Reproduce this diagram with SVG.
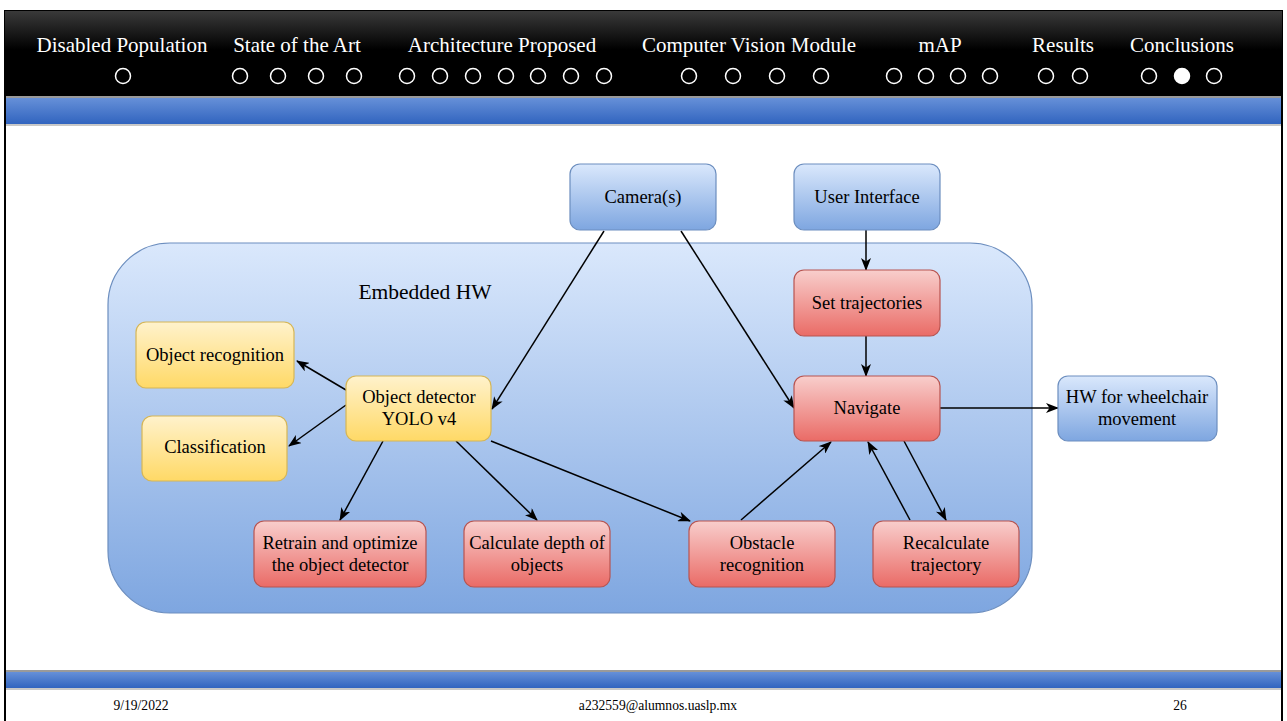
<svg xmlns="http://www.w3.org/2000/svg" width="1287" height="721" viewBox="0 0 1287 721">
  <defs>
    <linearGradient id="hdr" x1="0" y1="0" x2="0" y2="1">
      <stop offset="0" stop-color="#3a3a3a"/>
      <stop offset="0.45" stop-color="#000"/>
      <stop offset="1" stop-color="#000"/>
    </linearGradient>
    <linearGradient id="band" x1="0" y1="0" x2="0" y2="1">
      <stop offset="0" stop-color="#6690d8"/>
      <stop offset="1" stop-color="#3164bf"/>
    </linearGradient>
    <linearGradient id="gBlue" x1="0" y1="0" x2="0" y2="1">
      <stop offset="0" stop-color="#dae8fc"/>
      <stop offset="1" stop-color="#7ea6e0"/>
    </linearGradient>
    <linearGradient id="gYellow" x1="0" y1="0" x2="0" y2="1">
      <stop offset="0" stop-color="#fff2cc"/>
      <stop offset="1" stop-color="#ffd966"/>
    </linearGradient>
    <linearGradient id="gRed" x1="0" y1="0" x2="0" y2="1">
      <stop offset="0" stop-color="#f8cecc"/>
      <stop offset="1" stop-color="#ea6b66"/>
    </linearGradient>
    <marker id="arrow" viewBox="0 0 13 10" refX="12" refY="5" markerWidth="13" markerHeight="10" markerUnits="userSpaceOnUse" orient="auto">
      <path d="M0,0 L13,5 L0,10 L3.5,5 Z" fill="#000"/>
    </marker>
  </defs>
  <style>
    text { font-family: "Liberation Serif", "Times New Roman", serif; fill: #000; }
    .nav { fill: #fff; font-size: 21px; text-anchor: middle; }
    .dot { fill: none; stroke: #fff; stroke-width: 1.5; }
    .dotOn { fill: #fff; stroke: #fff; stroke-width: 1.5; }
    .lbl { font-size: 18.5px; text-anchor: middle; }
    .foot { font-size: 13.6px; text-anchor: middle; }
    .blue { fill: url(#gBlue); stroke: #6c8ebf; stroke-width: 1.2; }
    .yellow { fill: url(#gYellow); stroke: #d6b656; stroke-width: 1.2; }
    .red { fill: url(#gRed); stroke: #b85450; stroke-width: 1.2; }
    .edge { fill: none; stroke: #000; stroke-width: 1.5; marker-end: url(#arrow); }
  </style>

  <!-- slide background and frame -->
  <rect x="0" y="0" width="1287" height="721" fill="#fff"/>
  <rect x="5" y="11" width="1277" height="712" fill="none" stroke="#000" stroke-width="2"/>

  <!-- navigation header -->
  <g id="header">
    <rect x="5" y="11" width="1277" height="86" fill="url(#hdr)"/>
    <text class="nav" x="122" y="52">Disabled Population</text>
    <text class="nav" x="297" y="52">State of the Art</text>
    <text class="nav" x="502" y="52">Architecture Proposed</text>
    <text class="nav" x="749" y="52">Computer Vision Module</text>
    <text class="nav" x="940" y="52">mAP</text>
    <text class="nav" x="1063" y="52">Results</text>
    <text class="nav" x="1182" y="52">Conclusions</text>
    <g>
      <circle class="dot" cx="123" cy="76" r="7.5"/>
      <circle class="dot" cx="240" cy="76" r="7.5"/>
      <circle class="dot" cx="278" cy="76" r="7.5"/>
      <circle class="dot" cx="316" cy="76" r="7.5"/>
      <circle class="dot" cx="354" cy="76" r="7.5"/>
      <circle class="dot" cx="407" cy="76" r="7.5"/>
      <circle class="dot" cx="440" cy="76" r="7.5"/>
      <circle class="dot" cx="473" cy="76" r="7.5"/>
      <circle class="dot" cx="506" cy="76" r="7.5"/>
      <circle class="dot" cx="538" cy="76" r="7.5"/>
      <circle class="dot" cx="571" cy="76" r="7.5"/>
      <circle class="dot" cx="604" cy="76" r="7.5"/>
      <circle class="dot" cx="689" cy="76" r="7.5"/>
      <circle class="dot" cx="733" cy="76" r="7.5"/>
      <circle class="dot" cx="777" cy="76" r="7.5"/>
      <circle class="dot" cx="821" cy="76" r="7.5"/>
      <circle class="dot" cx="894" cy="76" r="7.5"/>
      <circle class="dot" cx="926" cy="76" r="7.5"/>
      <circle class="dot" cx="958" cy="76" r="7.5"/>
      <circle class="dot" cx="990" cy="76" r="7.5"/>
      <circle class="dot" cx="1046" cy="76" r="7.5"/>
      <circle class="dot" cx="1080" cy="76" r="7.5"/>
      <circle class="dot" cx="1149" cy="76" r="7.5"/>
      <circle class="dotOn" cx="1182" cy="76" r="7.5"/>
      <circle class="dot" cx="1214" cy="76" r="7.5"/>
    </g>
  </g>

  <!-- blue bands -->
  <g id="bands">
    <rect x="6" y="96" width="1275" height="2" fill="#9a9a9a"/>
    <rect x="6" y="98" width="1275" height="26" fill="url(#band)"/>
    <rect x="6" y="124" width="1275" height="2" fill="#c8c8c8"/>
    <rect x="6" y="670" width="1275" height="2" fill="#9a9a9a"/>
    <rect x="6" y="672" width="1275" height="16" fill="url(#band)"/>
    <rect x="6" y="688" width="1275" height="2" fill="#c8c8c8"/>
  </g>

  <!-- footer -->
  <g id="footer">
    <text class="foot" x="141" y="710">9/19/2022</text>
    <text class="foot" x="658" y="710">a232559@alumnos.uaslp.mx</text>
    <text class="foot" x="1180" y="710">26</text>
  </g>

  <!-- container: embedded hardware -->
  <g id="embedded-hw">
    <rect x="108" y="243" width="924" height="370" rx="62" ry="62" class="blue"/>
    <text x="425" y="299" font-size="21.5" text-anchor="middle">Embedded HW</text>
  </g>

  <!-- connectors -->
  <g id="connectors">
    <line class="edge" x1="604" y1="231" x2="492" y2="409"/>
    <line class="edge" x1="681" y1="231" x2="794" y2="408"/>
    <line class="edge" x1="866" y1="230" x2="866" y2="270"/>
    <line class="edge" x1="866" y1="336" x2="866" y2="376"/>
    <line class="edge" x1="940" y1="408" x2="1058" y2="408"/>
    <line class="edge" x1="346" y1="390" x2="297" y2="361"/>
    <line class="edge" x1="346" y1="405" x2="289" y2="446"/>
    <line class="edge" x1="383" y1="441" x2="340" y2="520"/>
    <line class="edge" x1="456" y1="441" x2="537" y2="520"/>
    <line class="edge" x1="491" y1="441" x2="690" y2="521"/>
    <line class="edge" x1="741" y1="520" x2="831" y2="442"/>
    <line class="edge" x1="910" y1="520" x2="868" y2="442"/>
    <line class="edge" x1="904" y1="441" x2="946" y2="520"/>
  </g>

  <!-- nodes -->
  <g id="camera">
    <rect x="570" y="164" width="146" height="66" rx="10" class="blue"/>
    <text class="lbl" x="643" y="203">Camera(s)</text>
  </g>
  <g id="user-interface">
    <rect x="794" y="164" width="146" height="66" rx="10" class="blue"/>
    <text class="lbl" x="867" y="203">User Interface</text>
  </g>
  <g id="set-trajectories">
    <rect x="794" y="270" width="146" height="66" rx="10" class="red"/>
    <text class="lbl" x="867" y="309">Set trajectories</text>
  </g>
  <g id="navigate">
    <rect x="794" y="376" width="146" height="65" rx="10" class="red"/>
    <text class="lbl" x="867" y="414">Navigate</text>
  </g>
  <g id="hw-wheelchair">
    <rect x="1058" y="376" width="159" height="65" rx="10" class="blue"/>
    <text class="lbl" x="1137" y="403">HW for wheelchair</text>
    <text class="lbl" x="1137" y="425">movement</text>
  </g>
  <g id="object-recognition">
    <rect x="136" y="322" width="158" height="66" rx="10" class="yellow"/>
    <text class="lbl" x="215" y="361">Object recognition</text>
  </g>
  <g id="object-detector">
    <rect x="346" y="376" width="145" height="65" rx="10" class="yellow"/>
    <text class="lbl" x="419" y="403">Object detector</text>
    <text class="lbl" x="419" y="425">YOLO v4</text>
  </g>
  <g id="classification">
    <rect x="142" y="416" width="145" height="65" rx="10" class="yellow"/>
    <text class="lbl" x="215" y="453">Classification</text>
  </g>
  <g id="retrain">
    <rect x="254" y="521" width="172" height="66" rx="10" class="red"/>
    <text class="lbl" x="340" y="549">Retrain and optimize</text>
    <text class="lbl" x="340" y="571">the object detector</text>
  </g>
  <g id="calculate-depth">
    <rect x="464" y="521" width="146" height="66" rx="10" class="red"/>
    <text class="lbl" x="537" y="549">Calculate depth of</text>
    <text class="lbl" x="537" y="571">objects</text>
  </g>
  <g id="obstacle-recognition">
    <rect x="689" y="521" width="146" height="66" rx="10" class="red"/>
    <text class="lbl" x="762" y="549">Obstacle</text>
    <text class="lbl" x="762" y="571">recognition</text>
  </g>
  <g id="recalculate-trajectory">
    <rect x="873" y="521" width="146" height="66" rx="10" class="red"/>
    <text class="lbl" x="946" y="549">Recalculate</text>
    <text class="lbl" x="946" y="571">trajectory</text>
  </g>
</svg>
